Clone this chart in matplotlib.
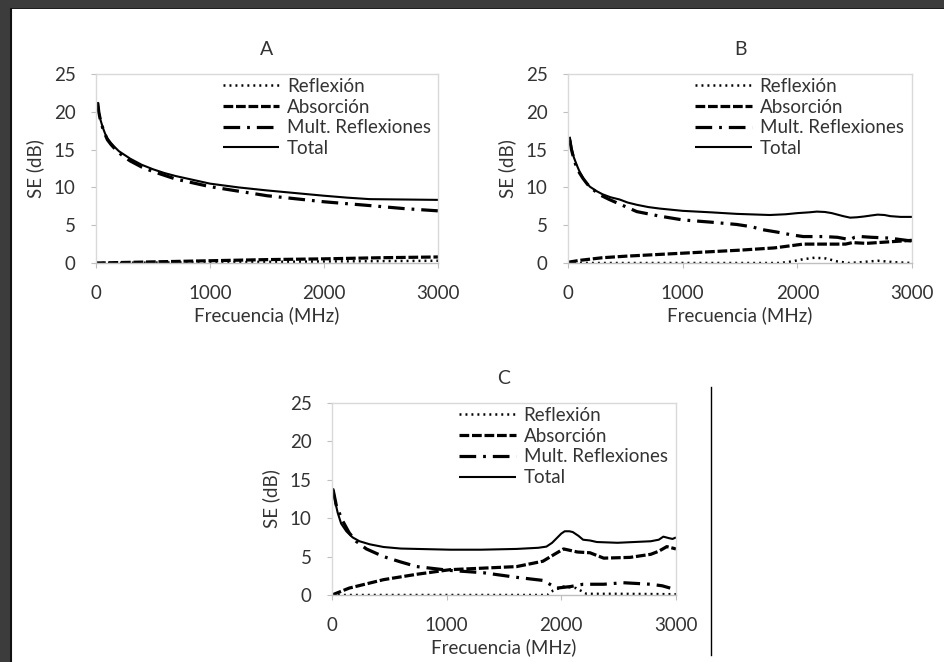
import matplotlib.pyplot as plt
from matplotlib.lines import Line2D
from matplotlib.patches import Rectangle

# ---- data (frequency in MHz, SE in dB) ----
labels = ["Reflexión", "Absorción", "Mult. Reflexiones", "Total"]

# panel A
a_tot_f = [15, 25, 40, 60, 80, 100, 130, 160, 200, 250, 300, 400, 500, 600, 700, 850, 1000, 1250, 1500, 1750, 2000, 2200, 2400, 2700, 3000]
a_tot = [21.3, 20.0, 18.9, 17.9, 17.1, 16.5, 15.9, 15.4, 14.8, 14.3, 13.8, 13.0, 12.4, 11.9, 11.5, 11.0, 10.5, 10.0, 9.6, 9.25, 8.9, 8.65, 8.45, 8.4, 8.35]
a_mult_f = [15, 25, 40, 60, 80, 100, 130, 160, 200, 250, 300, 400, 500, 600, 700, 850, 1000, 1250, 1500, 1750, 2000, 2200, 2400, 2700, 3000]
a_mult = [21.2, 19.9, 18.8, 17.8, 17.0, 16.3, 15.7, 15.2, 14.6, 14.0, 13.5, 12.7, 12.1, 11.6, 11.1, 10.6, 10.1, 9.5, 8.9, 8.5, 8.1, 7.85, 7.6, 7.2, 6.9]
a_abs_f = [0, 500, 1000, 1500, 2000, 2500, 3000]
a_abs = [0.0, 0.15, 0.3, 0.45, 0.55, 0.7, 0.8]
a_ref_f = [0, 1000, 2000, 3000]
a_ref = [0.0, 0.1, 0.2, 0.3]

# panel B
b_tot_f = [15, 30, 50, 75, 100, 140, 190, 250, 300, 370, 450, 520, 600, 700, 800, 900, 1000, 1250, 1470, 1760, 1900, 2000, 2100, 2170, 2240, 2300, 2400, 2460, 2520, 2580, 2650, 2700, 2760, 2810, 2900, 3000]
b_tot = [16.7, 15.2, 14.0, 13.0, 12.1, 11.0, 10.1, 9.5, 9.1, 8.7, 8.4, 8.0, 7.7, 7.4, 7.2, 7.05, 6.9, 6.7, 6.5, 6.35, 6.45, 6.6, 6.7, 6.8, 6.75, 6.6, 6.2, 6.0, 6.05, 6.15, 6.3, 6.4, 6.35, 6.2, 6.1, 6.1]
b_mult_f = [15, 30, 50, 80, 130, 170, 220, 280, 360, 450, 600, 800, 1000, 1250, 1470, 1600, 1700, 1820, 1940, 2050, 2230, 2350, 2420, 2460, 2500, 2550, 2650, 2800, 2900, 3000]
b_mult = [16.3, 15.0, 13.8, 12.4, 11.2, 10.4, 9.7, 9.0, 8.4, 7.8, 6.8, 6.2, 5.7, 5.4, 5.1, 4.8, 4.4, 4.1, 3.75, 3.5, 3.5, 3.4, 3.2, 3.1, 3.4, 3.5, 3.4, 3.3, 3.1, 2.9]
b_abs_f = [0, 100, 300, 500, 1000, 1500, 1800, 1950, 2050, 2300, 2420, 2480, 2600, 2800, 3000]
b_abs = [0.1, 0.35, 0.7, 0.9, 1.3, 1.7, 2.0, 2.3, 2.5, 2.5, 2.5, 2.7, 2.6, 2.8, 3.0]
b_ref_f = [0, 1850, 1950, 2050, 2150, 2250, 2350, 2450, 2550, 2700, 2850, 3000]
b_ref = [0.0, 0.0, 0.2, 0.5, 0.7, 0.6, 0.2, 0.0, 0.1, 0.3, 0.1, 0.0]

# panel C
c_tot_f = [10, 30, 50, 80, 125, 180, 240, 330, 450, 600, 740, 1030, 1300, 1610, 1800, 1870, 1920, 1960, 2000, 2030, 2070, 2100, 2150, 2190, 2250, 2310, 2490, 2780, 2850, 2890, 2940, 2970, 3000]
c_tot = [13.9, 12.0, 10.7, 9.3, 8.3, 7.5, 7.0, 6.6, 6.25, 6.05, 6.0, 5.9, 5.9, 6.0, 6.15, 6.3, 6.8, 7.4, 8.0, 8.3, 8.3, 8.2, 7.7, 7.2, 7.1, 6.9, 6.8, 7.0, 7.2, 7.6, 7.4, 7.3, 7.5]
c_mult_f = [10, 40, 95, 150, 210, 300, 450, 600, 740, 1030, 1320, 1610, 1840, 1900, 1960, 2080, 2190, 2370, 2540, 2780, 2880, 2950]
c_mult = [13.7, 11.5, 9.6, 8.1, 7.0, 6.0, 5.0, 4.3, 3.7, 3.2, 2.9, 2.3, 1.9, 1.4, 0.9, 1.1, 1.4, 1.4, 1.6, 1.4, 1.2, 0.9]
c_abs_f = [0, 150, 450, 740, 1030, 1320, 1610, 1840, 1940, 2020, 2080, 2140, 2250, 2370, 2600, 2780, 2850, 2920, 3000]
c_abs = [0.0, 0.9, 2.0, 2.7, 3.3, 3.5, 3.7, 4.4, 5.3, 6.0, 5.8, 5.6, 5.5, 4.8, 4.9, 5.3, 5.7, 6.3, 6.0]
c_ref_f = [0, 1880, 1930, 2020, 2130, 2220, 2500, 3000]
c_ref = [0.0, 0.0, 0.6, 1.1, 0.9, 0.15, 0.15, 0.1]

x_ticks = [0, 1000, 2000, 3000]
y_ticks = [0, 5, 10, 15, 20, 25]

plt.rcParams["font.family"] = ["Lato", "DejaVu Sans"]
plt.rcParams["lines.scale_dashes"] = False

styles = [
    dict(lw=1.8, ls=(0, (1.4, 2.9))),
    dict(lw=2.3, ls=(0, (7, 2))),
    dict(lw=2.3, ls=(0, (12, 5, 2, 5))),
    dict(lw=1.5, ls="-"),
]
txt = "#333333"
fs = 13.5


def panel(fig, rect, title, series):
    ax = fig.add_axes(rect)
    for (f, v), st, lab in zip(series, styles, labels):
        ax.plot(f, v, color="black", label=lab, solid_capstyle="butt", dash_capstyle="butt", **st)
    ax.set_xlim(0, 3000)
    ax.set_ylim(0, 25)
    ax.set_xticks(x_ticks)
    ax.set_yticks(y_ticks)
    for s in ax.spines.values():
        s.set_color("#d9d9d9")
        s.set_linewidth(1.0)
    ax.spines["bottom"].set_color("#bfbfbf")
    ax.tick_params(axis="both", colors="#bfbfbf", labelcolor=txt, labelsize=fs, length=3.6)
    ax.tick_params(axis="y", pad=11)
    ax.tick_params(axis="x", pad=12)
    ax.set_xlabel("Frecuencia (MHz)", fontsize=fs, color=txt, labelpad=3)
    ax.set_ylabel("SE (dB)", fontsize=fs, color=txt, labelpad=7)
    ax.set_title(title, fontsize=fs + 0.5, color=txt, pad=13.5)
    ax.legend(loc="upper left", bbox_to_anchor=(0.37, 0.98), frameon=False, fontsize=fs,
              handlelength=3.0, handletextpad=0.43, labelspacing=0.2, borderpad=0.0,
              borderaxespad=0, labelcolor=txt)
    return ax


fig = plt.figure(figsize=(9.45, 6.62), dpi=100)

panel(fig, [0.1016, 0.6027, 0.3619, 0.2855], "A",
      [(a_ref_f, a_ref), (a_abs_f, a_abs), (a_mult_f, a_mult), (a_tot_f, a_tot)])
panel(fig, [0.6011, 0.6027, 0.364, 0.2855], "B",
      [(b_ref_f, b_ref), (b_abs_f, b_abs), (b_mult_f, b_mult), (b_tot_f, b_tot)])
panel(fig, [0.3513, 0.1012, 0.364, 0.29], "C",
      [(c_ref_f, c_ref), (c_abs_f, c_abs), (c_mult_f, c_mult), (c_tot_f, c_tot)])

# page decoration: dark header strip, left margin and the table rule
H, W = 662.0, 945.0
fig.add_artist(Rectangle((0, 1 - 8 / H), 1, 8 / H, transform=fig.transFigure, color="#3c3c3c", lw=0))
fig.add_artist(Rectangle((0, 1 - 9 / H), 1, 1.5 / H, transform=fig.transFigure, color="#1e1e1e", lw=0))
fig.add_artist(Rectangle((0, 0), 10 / W, 1, transform=fig.transFigure, color="#3c3c3c", lw=0))
fig.add_artist(Line2D([11 / W, 11 / W], [0, 1 - 9 / H], transform=fig.transFigure, color="#111111", lw=1.5))
fig.add_artist(Line2D([711 / W, 711 / W], [1 - 655 / H, 1 - 387 / H], transform=fig.transFigure, color="black", lw=1.0))

fig.savefig("out.png", dpi=100)
